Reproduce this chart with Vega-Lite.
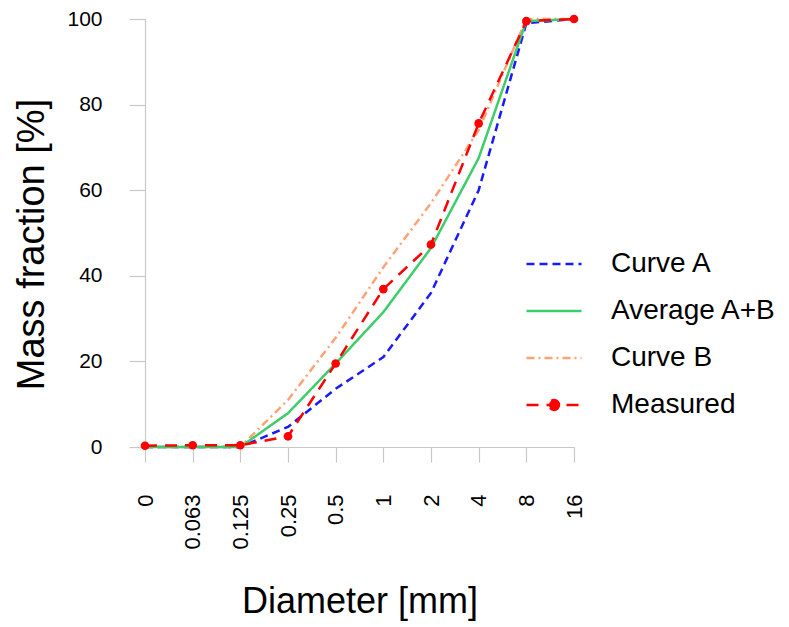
{
  "$schema": "https://vega.github.io/schema/vega-lite/v6.json",
  "width": 429,
  "height": 428,
  "autosize": "none",
  "padding": {"left": 145, "top": 19, "right": 215, "bottom": 180},
  "background": "white",
  "config": {
    "view": {"stroke": null},
    "font": "Liberation Sans",
    "axis": {"labelFont": "Liberation Sans", "titleFont": "Liberation Sans", "labelColor": "#000", "titleColor": "#000", "titleFontWeight": "normal", "grid": false, "domainColor": "#c8c8c8", "tickColor": "#c8c8c8", "domainWidth": 1.2, "tickWidth": 1.2},
    "legend": {"labelFont": "Liberation Sans", "labelColor": "#000"}
  },
  "data": {
    "values": [
      {"d": "0", "series": "Curve B", "v": 0},
      {"d": "0.063", "series": "Curve B", "v": 0},
      {"d": "0.125", "series": "Curve B", "v": 0},
      {"d": "0.25", "series": "Curve B", "v": 11},
      {"d": "0.5", "series": "Curve B", "v": 25.5},
      {"d": "1", "series": "Curve B", "v": 42},
      {"d": "2", "series": "Curve B", "v": 57},
      {"d": "4", "series": "Curve B", "v": 74},
      {"d": "8", "series": "Curve B", "v": 100},
      {"d": "16", "series": "Curve B", "v": 100},
      {"d": "0", "series": "Curve A", "v": 0},
      {"d": "0.063", "series": "Curve A", "v": 0},
      {"d": "0.125", "series": "Curve A", "v": 0},
      {"d": "0.25", "series": "Curve A", "v": 4.7},
      {"d": "0.5", "series": "Curve A", "v": 13.6},
      {"d": "1", "series": "Curve A", "v": 21},
      {"d": "2", "series": "Curve A", "v": 36},
      {"d": "4", "series": "Curve A", "v": 60},
      {"d": "8", "series": "Curve A", "v": 99},
      {"d": "16", "series": "Curve A", "v": 100},
      {"d": "0", "series": "Average A+B", "v": 0},
      {"d": "0.063", "series": "Average A+B", "v": 0},
      {"d": "0.125", "series": "Average A+B", "v": 0},
      {"d": "0.25", "series": "Average A+B", "v": 7.9},
      {"d": "0.5", "series": "Average A+B", "v": 19.5},
      {"d": "1", "series": "Average A+B", "v": 31.5},
      {"d": "2", "series": "Average A+B", "v": 46.5},
      {"d": "4", "series": "Average A+B", "v": 67.5},
      {"d": "8", "series": "Average A+B", "v": 99.5},
      {"d": "16", "series": "Average A+B", "v": 100},
      {"d": "0", "series": "Measured", "v": 0.3},
      {"d": "0.063", "series": "Measured", "v": 0.4},
      {"d": "0.125", "series": "Measured", "v": 0.4},
      {"d": "0.25", "series": "Measured", "v": 2.5},
      {"d": "0.5", "series": "Measured", "v": 19.5},
      {"d": "1", "series": "Measured", "v": 36.9},
      {"d": "2", "series": "Measured", "v": 47.3},
      {"d": "4", "series": "Measured", "v": 75.6},
      {"d": "8", "series": "Measured", "v": 99.5},
      {"d": "16", "series": "Measured", "v": 100}
    ]
  },
  "encoding": {
    "x": {
      "field": "d", "type": "ordinal",
      "sort": ["0", "0.063", "0.125", "0.25", "0.5", "1", "2", "4", "8", "16"],
      "scale": {"type": "point", "padding": 0},
      "axis": {"title": "Diameter [mm]", "titleFontSize": 36, "titleBaseline": "alphabetic", "titleY": 165, "labelAngle": -90, "labelFontSize": 22, "tickSize": 15, "labelPadding": 32}
    },
    "y": {
      "field": "v", "type": "quantitative",
      "scale": {"domain": [0, 100], "nice": false, "zero": true},
      "axis": {"title": "Mass fraction [%]", "titleFontSize": 38, "titleAngle": -90, "titleBaseline": "alphabetic", "titleAlign": "center", "titleX": -102, "titleY": 225, "values": [0, 20, 40, 60, 80, 100], "labelFontSize": 21, "tickSize": 16, "labelPadding": 27}
    }
  },
  "layer": [
    {
      "mark": {"type": "line", "strokeWidth": 2.5},
      "encoding": {
        "color": {
          "field": "series", "type": "nominal",
          "scale": {"domain": ["Curve A", "Average A+B", "Curve B", "Measured"], "range": ["#1a1aff", "#3fcc6b", "#ffa276", "#ff0000"]},
          "legend": {
            "title": null, "orient": "none", "legendX": 380, "legendY": 216,
            "labelFontSize": 28, "labelLimit": 0, "symbolSize": 3025, "symbolStrokeWidth": 2.5, "labelOffset": 28, "rowPadding": 4,
            "encode": {"symbols": {"update": {
              "shape": {"signal": "datum.value === 'Measured' ? 'M-1,0H1M0.18,0C0.18,0.0994,0.0994,0.18,0,0.18C-0.0994,0.18,-0.18,0.0994,-0.18,0C-0.18,-0.0994,-0.0994,-0.18,0,-0.18C0.0994,-0.18,0.18,-0.0994,0.18,0Z' : 'M-1,0H1'"},
              "fill": {"signal": "datum.value === 'Measured' ? '#ff0000' : 'transparent'"}
            }}}
          }
        },
        "strokeDash": {
          "field": "series", "type": "nominal",
          "scale": {"domain": ["Curve A", "Average A+B", "Curve B", "Measured"], "range": [[8, 5], [1, 0], [8, 4, 2, 4], [12, 8]]},
          "legend": null
        }
      }
    },
    {
      "transform": [{"filter": "datum.series === 'Measured'"}],
      "mark": {"type": "point", "filled": true, "opacity": 1, "size": 75},
      "encoding": {"color": {"value": "#ff0000"}}
    }
  ]
}
